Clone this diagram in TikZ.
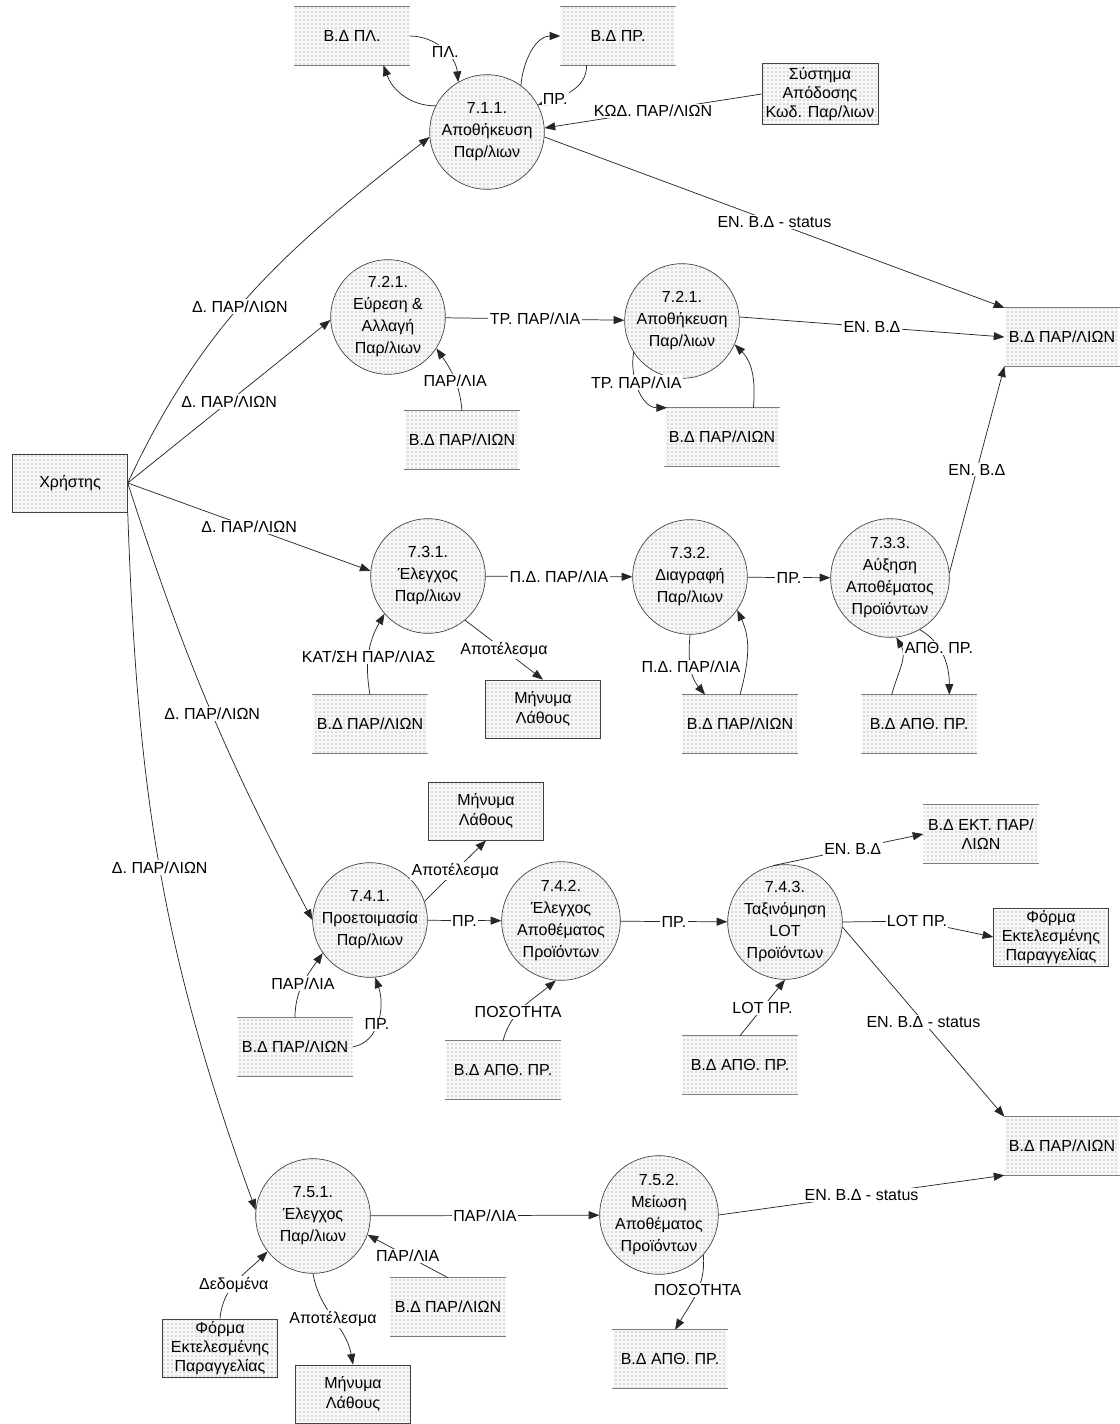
\documentclass[tikz,border=0pt]{standalone}
\usepackage{fontspec}
\setmainfont{Liberation Sans}
\usetikzlibrary{arrows.meta,patterns.meta}
\definecolor{dfdLine}{RGB}{60,60,60}
\definecolor{dfdDot}{RGB}{130,130,130}
\definecolor{dfdStore}{RGB}{125,125,125}
\newcommand{\dfdfont}{\fontsize{12}{16.5}\selectfont}
\newcommand{\extfont}{\fontsize{12}{14.5}\selectfont}

\begin{document}
\begin{tikzpicture}[x=0.75pt, y=-0.75pt,
    dotfill/.style={fill=black!3, postaction={pattern={Dots[distance=3pt,radius=0.45pt]}, pattern color=dfdDot}},
    proc/.style={circle, draw=dfdLine, line width=0.5pt, minimum size=86pt,
                 inner sep=0pt, align=center, font=\dfdfont, dotfill},
    storeline/.style={draw=dfdStore, line width=1.1pt, -},
    dstore/.style={rectangle, minimum width=86pt, minimum height=43.5pt,
                   inner sep=0pt, align=center, font=\extfont, dotfill,
                   append after command={(\tikzlastnode.north west) edge[storeline] (\tikzlastnode.north east)
                                         (\tikzlastnode.south west) edge[storeline] (\tikzlastnode.south east)}},
    ext/.style={rectangle, draw=dfdLine, line width=0.6pt, minimum width=86pt,
                minimum height=43.5pt, inner sep=1pt, align=center, font=\extfont, dotfill},
    flow/.style={draw=black!85, line width=0.55pt, -{Triangle[length=8pt,width=6pt]}},
    lbl/.style={fill=white, inner sep=1pt, font=\dfdfont}
  ]
  \useasboundingbox (0,0) rectangle (1120,1424);

  % external entities
  \node[ext] (eUser) at (70,483) {Χρήστης};
  \node[ext, minimum width=87pt, minimum height=46pt] (eSys) at (820,94) {Σύστημα\\Απόδοσης\\Κωδ. Παρ/λιων};
  \node[ext] (eErr1) at (543,709) {Μήνυμα\\Λάθους};
  \node[ext] (eErr2) at (486,811) {Μήνυμα\\Λάθους};
  \node[ext] (eForm1) at (1051,937) {Φόρμα\\Εκτελεσμένης\\Παραγγελίας};
  \node[ext] (eForm2) at (220,1348) {Φόρμα\\Εκτελεσμένης\\Παραγγελίας};
  \node[ext] (eErr3) at (353,1394) {Μήνυμα\\Λάθους};

  % data stores
  \node[dstore] (sPL) at (352,36) {Β.Δ ΠΛ.};
  \node[dstore] (sPR) at (618,36) {Β.Δ ΠΡ.};
  \node[dstore] (sParA) at (1062,337) {Β.Δ ΠΑΡ/ΛΙΩΝ};
  \node[dstore] (sPar1) at (462,440) {Β.Δ ΠΑΡ/ΛΙΩΝ};
  \node[dstore] (sPar2) at (722,437) {Β.Δ ΠΑΡ/ΛΙΩΝ};
  \node[dstore] (sPar3) at (370,724) {Β.Δ ΠΑΡ/ΛΙΩΝ};
  \node[dstore] (sPar4) at (740,724) {Β.Δ ΠΑΡ/ΛΙΩΝ};
  \node[dstore] (sApth1) at (919,724) {Β.Δ ΑΠΘ. ΠΡ.};
  \node[dstore] (sEkt) at (981,834) {Β.Δ ΕΚΤ. ΠΑΡ/\\ΛΙΩΝ};
  \node[dstore] (sPar5) at (295,1047) {Β.Δ ΠΑΡ/ΛΙΩΝ};
  \node[dstore] (sApth2) at (503,1070) {Β.Δ ΑΠΘ. ΠΡ.};
  \node[dstore] (sApth3) at (740,1065) {Β.Δ ΑΠΘ. ΠΡ.};
  \node[dstore] (sParB) at (1062,1146) {Β.Δ ΠΑΡ/ΛΙΩΝ};
  \node[dstore] (sPar6) at (448,1307) {Β.Δ ΠΑΡ/ΛΙΩΝ};
  \node[dstore] (sApth4) at (670,1359) {Β.Δ ΑΠΘ. ΠΡ.};

  % processes
  \node[proc] (p711) at (487,132) {7.1.1.\\Αποθήκευση\\Παρ/λιων};
  \node[proc] (p721) at (388,317) {7.2.1.\\Εύρεση \&\\Αλλαγή\\Παρ/λιων};
  \node[proc] (p722) at (682,321) {7.2.1.\\Αποθήκευση\\Παρ/λιων};
  \node[proc] (p731) at (428,576) {7.3.1.\\Έλεγχος\\Παρ/λιων};
  \node[proc] (p732) at (690,577) {7.3.2.\\Διαγραφή\\Παρ/λιων};
  \node[proc] (p733) at (890,578) {7.3.3.\\Αύξηση\\Αποθέματος\\Προϊόντων};
  \node[proc] (p741) at (370,920) {7.4.1.\\Προετοιμασία\\Παρ/λιων};
  \node[proc] (p742) at (561,921) {7.4.2.\\Έλεγχος\\Αποθέματος\\Προϊόντων};
  \node[proc] (p743) at (785,922) {7.4.3.\\Ταξινόμηση\\LOT\\Προϊόντων};
  \node[proc] (p751) at (313,1216) {7.5.1.\\Έλεγχος\\Παρ/λιων};
  \node[proc] (p752) at (659,1215) {7.5.2.\\Μείωση\\Αποθέματος\\Προϊόντων};

  % user flows
  \draw[flow] (eUser.east) to[out=65,in=218] node[lbl,pos=0.45] {Δ. ΠΑΡ/ΛΙΩΝ} (p711.185);
  \draw[flow] (eUser.east) -- node[lbl,pos=0.5] {Δ. ΠΑΡ/ΛΙΩΝ} (p721.183);
  \draw[flow] (eUser.east) -- node[lbl,pos=0.5] {Δ. ΠΑΡ/ΛΙΩΝ} (p731.175);
  \draw[flow] (eUser.east) to[bend right=5] node[lbl,pos=0.52] {Δ. ΠΑΡ/ΛΙΩΝ} (p741.180);
  \draw[flow] (eUser.south east) to[out=-88,in=110] node[lbl,pos=0.5] {Δ. ΠΑΡ/ΛΙΩΝ} (p751.174);

  % 7.1.1
  \draw[flow] (sPL.east) to[out=0,in=95] node[lbl,pos=0.55] {ΠΛ.} (p711.120);
  \draw[flow] (p711.153) to[out=180,in=-70] (sPL.-43);
  \draw[flow] (p711.54) to[out=85,in=180] (sPR.west);
  \draw[flow] (sPR.-137) to[out=-90,in=20] node[lbl,pos=0.75] {ΠΡ.} (p711.28);
  \draw[flow] (eSys.west) -- node[lbl,pos=0.5] {ΚΩΔ. ΠΑΡ/ΛΙΩΝ} (p711.4);
  \draw[flow] (p711.-5) -- node[lbl,pos=0.5] {ΕΝ. Β.Δ - status} (sParA.north west);

  % 7.2
  \draw[flow] (p721) -- node[lbl] {ΤΡ. ΠΑΡ/ΛΙΑ} (p722);
  \draw[flow] (sPar1.north) to[out=95,in=-55] node[lbl,pos=0.45] {ΠΑΡ/ΛΙΑ} (p721.-33);
  \draw[flow] (p722.4) -- node[lbl,pos=0.5] {ΕΝ. Β.Δ} (sParA.west);
  \draw[flow] (p722.213) to[out=-100,in=180] node[lbl,pos=0.4] {ΤΡ. ΠΑΡ/ΛΙΑ} ([xshift=2pt]sPar2.north west);
  \draw[flow] (sPar2.43) to[out=85,in=-45] (p722.-24);

  % 7.3
  \draw[flow] (p733.5) -- node[lbl,pos=0.5] {ΕΝ. Β.Δ} (sParA.south west);
  \draw[flow] (p731) -- node[lbl] {Π.Δ. ΠΑΡ/ΛΙΑ} (p732);
  \draw[flow] (p732) -- node[lbl] {ΠΡ.} (p733);
  \draw[flow] (sPar3.north) to[out=100,in=-120] node[lbl,pos=0.45] {ΚΑΤ/ΣΗ ΠΑΡ/ΛΙΑΣ} (p731.221);
  \draw[flow] (p731.-50) -- node[lbl,pos=0.5] {Αποτέλεσμα} (eErr1.north);
  \draw[flow] (p732.-90) to[out=-95,in=130] node[lbl,pos=0.5] {Π.Δ. ΠΑΡ/ΛΙΑ} (sPar4.140);
  \draw[flow] (sPar4.north) to[out=75,in=-65] (p732.-35);
  \draw[flow] (sApth1.133) to[out=75,in=-60] (p733.-84);
  \draw[flow] (p733.-60) to[out=-30,in=90] node[lbl,pos=0.35] {ΑΠΘ. ΠΡ.} (sApth1.44);

  % 7.4
  \draw[flow] (p741.19) -- node[lbl,pos=0.5] {Αποτέλεσμα} (eErr2.south);
  \draw[flow] (p741) -- node[lbl] {ΠΡ.} (p742);
  \draw[flow] (p742) -- node[lbl] {ΠΡ.} (p743);
  \draw[flow] (p743.102) -- node[lbl,pos=0.53] {ΕΝ. Β.Δ} (sEkt.west);
  \coordinate (lotbend) at (917,921);
  \draw[flow] (p743.east) -- (lotbend) node[lbl] {LOT ΠΡ.} -- (eForm1.west);
  \draw[flow] (p743.-5) -- node[lbl,pos=0.5] {ΕΝ. Β.Δ - status} (sParB.north west);
  \draw[flow] (sPar5.north) to[out=90,in=-125] node[lbl,pos=0.5] {ΠΑΡ/ΛΙΑ} (p741.215);
  \draw[flow] (sPar5.east) to[out=10,in=-70] node[lbl,pos=0.45] {ΠΡ.} (p741.-85);
  \draw[flow] (sApth2.north) to[out=75,in=-140] node[lbl,pos=0.4] {ΠΟΣΟΤΗΤΑ} (p742.-95);
  \draw[flow] (sApth3.north) -- node[lbl,pos=0.5] {LOT ΠΡ.} (p743.south);

  % 7.5
  \draw[flow] (p751) -- node[lbl] {ΠΑΡ/ΛΙΑ} (p752);
  \draw[flow] (sPar6.north) -- node[lbl,pos=0.5] {ΠΑΡ/ΛΙΑ} (p751.-19);
  \draw[flow] (eForm2.north) to[out=85,in=-135] node[lbl,pos=0.45] {Δεδομένα} (p751.218);
  \draw[flow] (p751.-90) to[out=-80,in=100] node[lbl,pos=0.5] {Αποτέλεσμα} (eErr3.north);
  \draw[flow] (p752.0) -- node[lbl,pos=0.5] {ΕΝ. Β.Δ - status} (sParB.south west);
  \draw[flow] (p752.-42) to[out=-85,in=60] node[lbl,pos=0.45] {ΠΟΣΟΤΗΤΑ} (sApth4.80);
\end{tikzpicture}
\end{document}
